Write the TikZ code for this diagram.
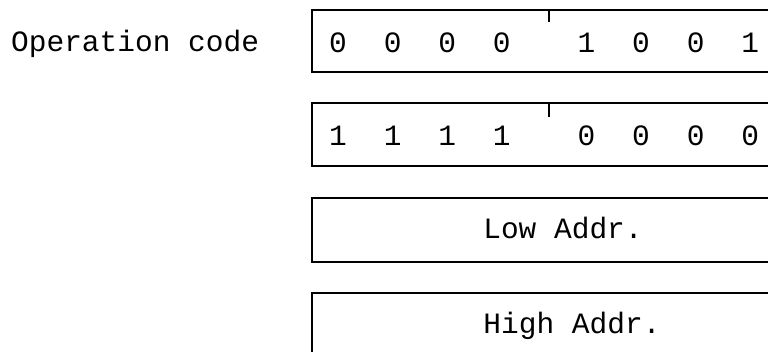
\documentclass[tikz,border=0pt]{standalone}
\usepackage{fontspec}
\setmainfont{Liberation Mono}
\begin{document}
\begin{tikzpicture}[x=1pt,y=-1pt,
  field/.style={draw=black,line width=1.6pt},
  tick/.style={draw=black,line width=1.2pt},
  txt/.style={inner sep=0pt,anchor=base,font=\fontsize{29.5}{32}\selectfont},
  lbl/.style={inner sep=0pt,anchor=base west,font=\fontsize{29.5}{32}\selectfont}]
\useasboundingbox (0,0) rectangle (768,351);
\clip (0,0) rectangle (768,351);
% instruction bytes
\draw[field] (790,10) -- (312,10) -- (312,72) -- (790,72);
\draw[field] (790,103) -- (312,103) -- (312,166) -- (790,166);
\draw[field] (790,198) -- (312,198) -- (312,262) -- (790,262);
\draw[field] (790,293) -- (312,293) -- (312,360);
% nibble boundary marks
\coordinate (t1a) at (549,10); \coordinate (t1b) at (549,22);
\coordinate (t2a) at (549,103); \coordinate (t2b) at (549,117);
\draw[tick] (t1a) -- (t1b);
\draw[tick] (t2a) -- (t2b);
\node[lbl] (op) at (11,51) {Operation code};
% first byte bits
\foreach \b [count=\i] in {0,0,0,0,1,0,0,1}{
  \pgfmathsetmacro{\xx}{338+(\i-1)*54.6+(\i>4)*30}
  \node[txt] (a\i) at (\xx,52) {\b};
}
% second byte bits
\foreach \b [count=\i] in {1,1,1,1,0,0,0,0}{
  \pgfmathsetmacro{\xx}{338+(\i-1)*54.6+(\i>4)*30}
  \node[txt] (b\i) at (\xx,145) {\b};
}
\node[txt] (lo) at (563,238) {Low Addr.};
\node[txt] (hi) at (572,333) {High Addr.};
\end{tikzpicture}
\end{document}
